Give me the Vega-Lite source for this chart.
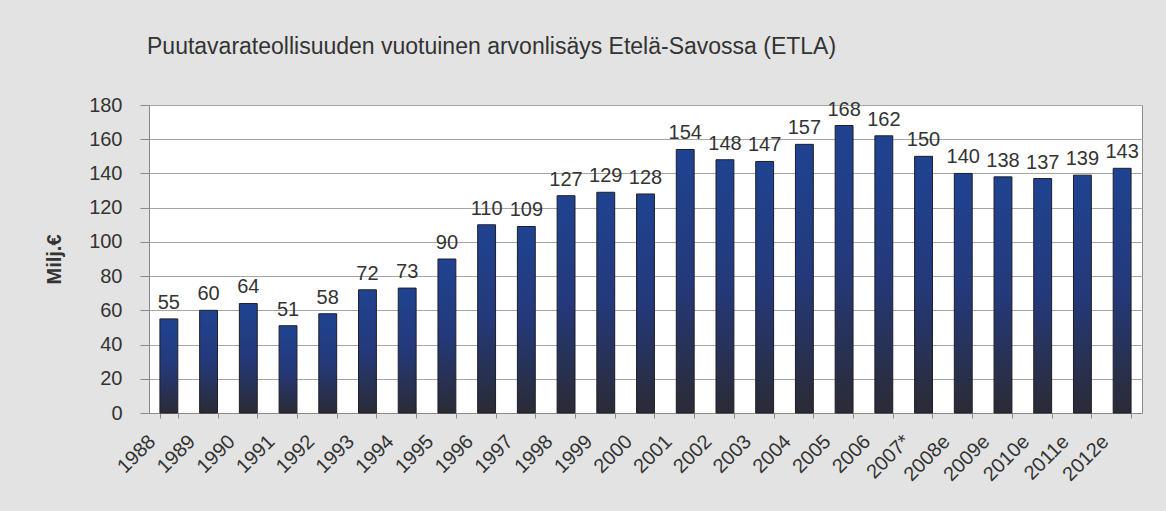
{
  "$schema": "https://vega.github.io/schema/vega-lite/v6.json",
  "width": 993,
  "height": 308,
  "autosize": {"type": "none"},
  "padding": {"left": 149, "top": 105, "right": 24, "bottom": 98},
  "background": "#e3e3e3",
  "title": {
    "text": "Puutavarateollisuuden vuotuinen arvonlisäys Etelä-Savossa (ETLA)",
    "anchor": "start",
    "frame": "group",
    "font": "Liberation Sans",
    "fontSize": 23,
    "fontWeight": "normal",
    "color": "#333333",
    "baseline": "alphabetic",
    "offset": 18,
    "dx": -2
  },
  "config": {
    "view": {"fill": "#ffffff", "stroke": "#8a8a8a", "strokeWidth": 1},
    "axis": {"labelFont": "Liberation Sans", "titleFont": "Liberation Sans", "labelColor": "#333333", "titleColor": "#333333", "domainColor": "#8a8a8a", "tickColor": "#8a8a8a"}
  },
  "data": {
    "values": [
      {"year": "1988", "value": 55},
      {"year": "1989", "value": 60},
      {"year": "1990", "value": 64},
      {"year": "1991", "value": 51},
      {"year": "1992", "value": 58},
      {"year": "1993", "value": 72},
      {"year": "1994", "value": 73},
      {"year": "1995", "value": 90},
      {"year": "1996", "value": 110},
      {"year": "1997", "value": 109},
      {"year": "1998", "value": 127},
      {"year": "1999", "value": 129},
      {"year": "2000", "value": 128},
      {"year": "2001", "value": 154},
      {"year": "2002", "value": 148},
      {"year": "2003", "value": 147},
      {"year": "2004", "value": 157},
      {"year": "2005", "value": 168},
      {"year": "2006", "value": 162},
      {"year": "2007*", "value": 150},
      {"year": "2008e", "value": 140},
      {"year": "2009e", "value": 138},
      {"year": "2010e", "value": 137},
      {"year": "2011e", "value": 139},
      {"year": "2012e", "value": 143}
    ]
  },
  "encoding": {
    "x": {
      "field": "year",
      "type": "ordinal",
      "sort": null,
      "scale": {"paddingInner": 0.55, "paddingOuter": 0.275},
      "axis": {
        "title": null,
        "labelAngle": -45,
        "labelFontSize": 20,
        "labelOffset": -24,
        "labelPadding": 13,
        "tickBand": "extent",
        "tickSize": 5,
        "grid": false,
        "domain": true
      }
    },
    "y": {
      "field": "value",
      "type": "quantitative",
      "scale": {"domain": [0, 180], "nice": false},
      "axis": {
        "title": "Milj.€",
        "titleFontSize": 20,
        "titleFontWeight": "bold",
        "titlePadding": 24,
        "values": [0, 20, 40, 60, 80, 100, 120, 140, 160, 180],
        "labelFontSize": 20,
        "labelPadding": 18,
        "tickSize": 9,
        "grid": true,
        "gridColor": "#a6a6a6",
        "gridWidth": 1
      }
    }
  },
  "layer": [
    {
      "mark": {
        "type": "bar",
        "stroke": "#1e1e28",
        "strokeWidth": 1,
        "color": {
          "gradient": "linear",
          "x1": 0, "y1": 0, "x2": 0, "y2": 1,
          "stops": [
            {"offset": 0, "color": "#1f4391"},
            {"offset": 0.5, "color": "#24397a"},
            {"offset": 1, "color": "#2b2b35"}
          ]
        }
      }
    },
    {
      "mark": {
        "type": "text",
        "font": "Liberation Sans",
        "fontSize": 20,
        "color": "#333333",
        "baseline": "alphabetic",
        "dy": -10
      },
      "encoding": {"text": {"field": "value", "type": "quantitative"}}
    }
  ]
}
